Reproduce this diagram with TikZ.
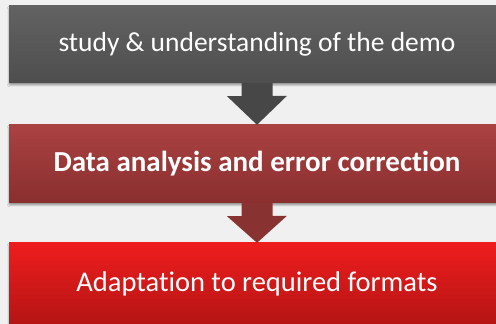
\documentclass[tikz,border=0pt]{standalone}
\usepackage{fontspec}
\setmainfont[Ligatures=NoCommon]{Carlito}
\usetikzlibrary{shadows.blur}

\definecolor{pagebg}{HTML}{F0F0F0}
\definecolor{graytop}{HTML}{626262}
\definecolor{graybot}{HTML}{4E4E4E}
\definecolor{redtop}{HTML}{AA4242}
\definecolor{redbot}{HTML}{8A2E2E}
\definecolor{brighttop}{HTML}{EE1D1D}
\definecolor{brightbot}{HTML}{B41414}
\definecolor{grayarrow}{HTML}{474747}
\definecolor{redarrow}{HTML}{893232}

\tikzset{
  stage/.style={rectangle, minimum width=496pt, minimum height=78pt,
    inner sep=0pt, text=white, font=\fontsize{28}{32}\selectfont,
    blur shadow={shadow xshift=0pt, shadow yshift=-2pt, shadow blur steps=6,
      shadow blur extra rounding=1pt}},
}

\begin{document}
\begin{tikzpicture}[x=1pt, y=1pt]
        \fill[pagebg] (0,0) rectangle (496,324);
        \useasboundingbox (0,0) rectangle (496,324);
        \node [stage, minimum height=77pt, top color=graytop, bottom color=graybot,
          font=\fontsize{27.5}{32}\selectfont]
          (study) at (257,279.5) {study \& understanding of the demo};
        \node [stage, top color=redtop, bottom color=redbot, font=\fontsize{29}{32}\selectfont\bfseries]
          (analysis) at (257,160) {Data analysis and error correction};
        \node [stage, minimum height=82pt, top color=brighttop, bottom color=brightbot,
          font=\fontsize{28.5}{32}\selectfont]
          (adapt) at (257,40) {Adaptation to required formats};
        % block arrows between the stages
        \fill [grayarrow] ([xshift=-15.5pt]study.south) -- ++(0,-13) -- ++(-14.5,0)
          -- (analysis.north) -- ++(30,29) -- ++(-14.5,0)
          -- ([xshift=15.5pt]study.south) -- cycle;
        \fill [redarrow] ([xshift=-15.5pt]analysis.south) -- ++(0,-13) -- ++(-14.5,0)
          -- (adapt.north) -- ++(30,27) -- ++(-14.5,0)
          -- ([xshift=15.5pt]analysis.south) -- cycle;
    \end{tikzpicture}
\end{document}
